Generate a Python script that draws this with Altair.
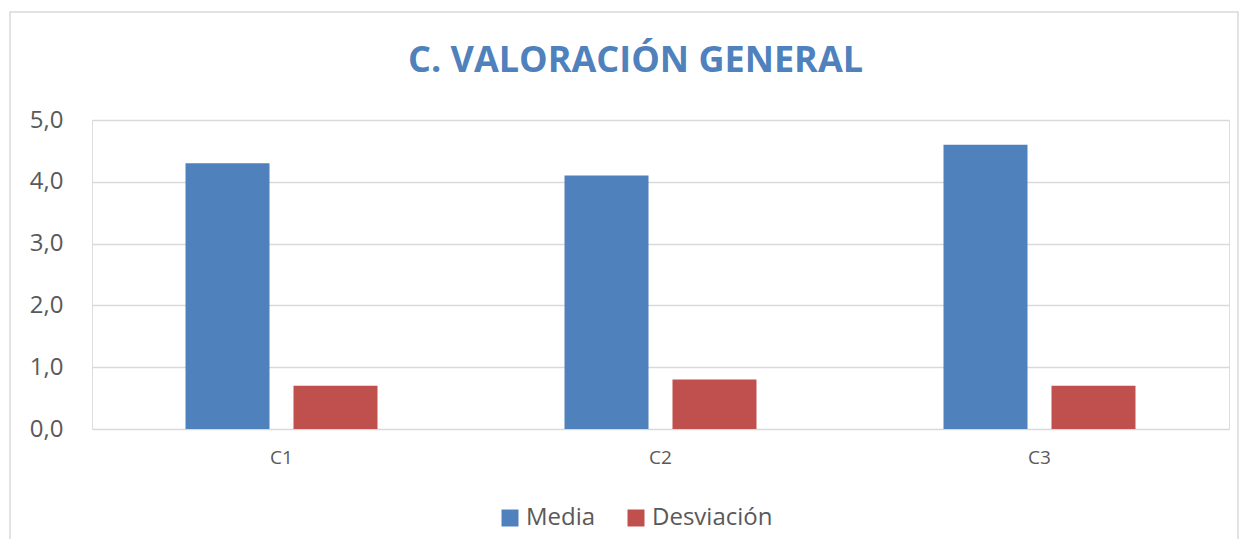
import altair as alt
import pandas as pd

categorias = ["C1", "C2", "C3"]
series = ["Media", "Desviación"]
media = [4.3, 4.1, 4.6]
desviacion = [0.7, 0.8, 0.7]
colores = ["#4F81BD", "#C0504D"]

rows = []
for i, c in enumerate(categorias):
    rows.append({"cat": c, "serie": "Media", "valor": media[i]})
    rows.append({"cat": c, "serie": "Desviación", "valor": desviacion[i]})
df = pd.DataFrame(rows)

FONT = "Open Sans"
TXT = "#595959"

bars = alt.Chart(df).mark_bar().encode(
    x=alt.X("cat:N", sort=categorias,
            scale=alt.Scale(paddingInner=0, paddingOuter=0),
            axis=alt.Axis(title=None, labelAngle=0, domain=False, ticks=False,
                          labelFontSize=19, labelPadding=19, labelColor=TXT,
                          labelFont=FONT, grid=False)),
    xOffset=alt.XOffset("serie:N", sort=series,
                        scale=alt.Scale(paddingInner=0.222, paddingOuter=0.866)),
    y=alt.Y("valor:Q",
            scale=alt.Scale(domain=[0, 5], nice=False),
            axis=alt.Axis(title=None, values=[0, 1, 2, 3, 4, 5],
                          labelExpr="replace(format(datum.value, '.1f'), '.', ',')",
                          domain=False, ticks=False, labelFontSize=24,
                          labelPadding=29, labelColor=TXT, labelFont=FONT,
                          gridColor="#D9D9D9", gridWidth=1.5)),
    color=alt.Color("serie:N", sort=series,
                    scale=alt.Scale(domain=series, range=colores),
                    legend=alt.Legend(title=None, orient="none", legendX=406,
                                      legendY=386, direction="horizontal",
                                      symbolType="square", symbolSize=289,
                                      symbolStrokeWidth=0, labelFontSize=24,
                                      labelFont=FONT, labelColor=TXT,
                                      labelOffset=4, columnPadding=28)),
)

border = alt.Chart(alt.Data(values=[{}])).mark_rect(
    fill=None, stroke="#D9D9D9", strokeWidth=1.5
).encode(
    x=alt.value(-82), x2=alt.value(1146),
    y=alt.value(-108), y2=alt.value(460),
)

chart = alt.layer(border, bars).properties(
    width=1137, height=309,
    title=alt.TitleParams("C. VALORACIÓN GENERAL", anchor="middle",
                          fontSize=36, font=FONT, fontWeight="bold",
                          color="#4F81BD", offset=-97, baseline="alphabetic",
                          dx=-25),
    padding={"left": 84, "top": 112, "right": 10, "bottom": 110},
    autosize=alt.AutoSizeParams(type="none"),
).configure_view(stroke=None).configure(background="white")

chart.save("out.html", embed_options={"renderer": "svg", "actions": False})
